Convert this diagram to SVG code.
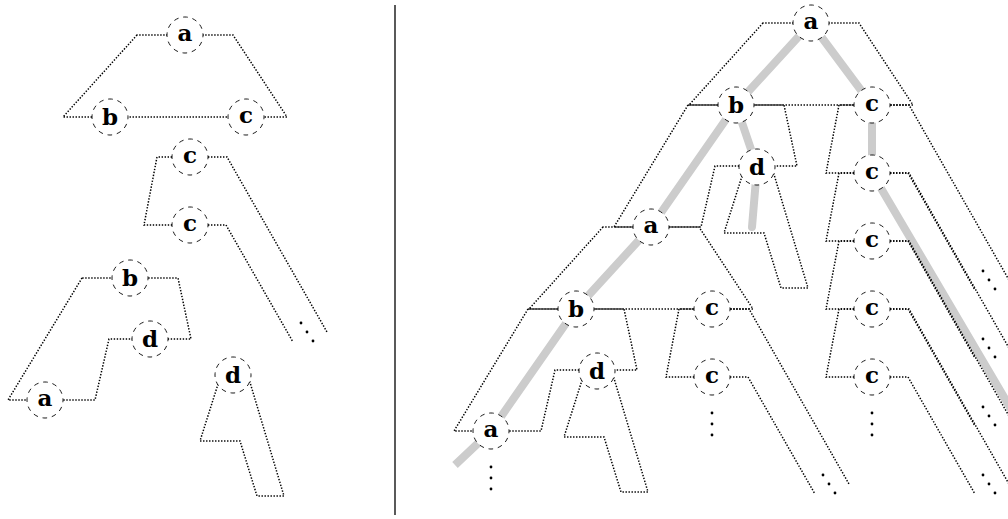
<svg xmlns="http://www.w3.org/2000/svg" width="1008" height="519" viewBox="0 0 1008 519">
<style>
.o{fill:none;stroke:#000;stroke-width:1.5;stroke-dasharray:1.4 1.6}
.n circle{fill:#fff;stroke:#000;stroke-width:0.9;stroke-dasharray:4.71 4.71;stroke-dashoffset:2.36}
.n text{font-family:"DejaVu Serif",serif;font-weight:bold;font-size:23px;text-anchor:middle;fill:#000}
.g{fill:none;stroke:#ccc;stroke-width:8;stroke-linejoin:round}
.dt{fill:#000}
</style>
<defs>
<g id="p1"><path class="o" d="M-48,0 L-122,82 L102,82 L48,0 Z"/></g>
<g id="p2"><path class="o" d="M0,0 L-33,0 L-46,68 L0,68 M0,0 L37,0 L137,175 M0,68 L36,68 L103,185"/><circle class="dt" cx="111" cy="166" r="1.4"/><circle class="dt" cx="117" cy="175" r="1.4"/><circle class="dt" cx="123" cy="184" r="1.4"/></g>
<g id="p3"><path class="o" d="M-48,0 L-122,122 L-35,122 L-21,61 L61,61 L48,0 Z"/></g>
<g id="p4"><path class="o" d="M-14,6 L-33,66 L7,66 L24,121 L51,121 L16,4"/></g>
<g id="vd"><circle class="dt" cx="0" cy="36" r="1.4"/><circle class="dt" cx="0" cy="47" r="1.4"/><circle class="dt" cx="0" cy="58" r="1.4"/></g>
</defs>
<rect width="1008" height="519" fill="#fff"/>
<g id="connectors">
<line x1="395" y1="5" x2="395" y2="515" stroke="#000" stroke-width="1.3"/>
<g id="highlight">
<path class="g" d="M811,23 L736,105 L651,227 L576,309 L491,431 L455,465"/>
<path class="g" d="M811,23 L872,105 L872,173 L1014,414"/>
<path class="g" d="M736,105 L757,167 L752,227" stroke-linecap="round"/>
</g>
<g id="outlines">
<use href="#p1" transform="translate(185,35)"/>
<use href="#p2" transform="translate(190,157)"/>
<use href="#p3" transform="translate(130,278)"/>
<use href="#p4" transform="translate(233,375)"/>
<use href="#p1" transform="translate(811,23)"/>
<use href="#p1" transform="translate(651,227)"/>
<use href="#p3" transform="translate(736,105)"/>
<use href="#p3" transform="translate(576,309)"/>
<use href="#p2" transform="translate(872,105)"/>
<use href="#p2" transform="translate(872,173)"/>
<use href="#p2" transform="translate(872,241)"/>
<use href="#p2" transform="translate(872,309)"/>
<use href="#p2" transform="translate(712,309)"/>
<use href="#p4" transform="translate(757,167)"/>
<use href="#p4" transform="translate(597,371)"/>
<use href="#vd" transform="translate(491,431)"/>
<use href="#vd" transform="translate(712,377)"/>
<use href="#vd" transform="translate(872,377)"/>
</g>
</g>
<g id="L_a" class="n" transform="translate(185,35)"><circle r="18"/><text y="6">a</text></g>
<g id="L_b" class="n" transform="translate(110,117)"><circle r="18"/><text y="8">b</text></g>
<g id="L_c" class="n" transform="translate(246,117)"><circle r="18"/><text y="6">c</text></g>
<g id="L_c1" class="n" transform="translate(190,157)"><circle r="18"/><text y="6">c</text></g>
<g id="L_c2" class="n" transform="translate(190,225)"><circle r="18"/><text y="6">c</text></g>
<g id="L_b2" class="n" transform="translate(130,278)"><circle r="18"/><text y="8">b</text></g>
<g id="L_d2" class="n" transform="translate(150,339)"><circle r="18"/><text y="8">d</text></g>
<g id="L_a2" class="n" transform="translate(45,400)"><circle r="18"/><text y="6">a</text></g>
<g id="L_d" class="n" transform="translate(233,375)"><circle r="18"/><text y="8">d</text></g>
<g id="R_a0" class="n" transform="translate(811,23)"><circle r="18"/><text y="6">a</text></g>
<g id="R_b1" class="n" transform="translate(736,105)"><circle r="18"/><text y="8">b</text></g>
<g id="R_c1" class="n" transform="translate(872,105)"><circle r="18"/><text y="6">c</text></g>
<g id="R_d1" class="n" transform="translate(757,167)"><circle r="18"/><text y="8">d</text></g>
<g id="R_a1" class="n" transform="translate(651,227)"><circle r="18"/><text y="6">a</text></g>
<g id="R_b2" class="n" transform="translate(576,309)"><circle r="18"/><text y="8">b</text></g>
<g id="R_cm" class="n" transform="translate(712,309)"><circle r="18"/><text y="6">c</text></g>
<g id="R_cb" class="n" transform="translate(712,377)"><circle r="18"/><text y="6">c</text></g>
<g id="R_d2" class="n" transform="translate(597,371)"><circle r="18"/><text y="8">d</text></g>
<g id="R_a2" class="n" transform="translate(491,431)"><circle r="18"/><text y="6">a</text></g>
<g id="R_c2" class="n" transform="translate(872,173)"><circle r="18"/><text y="6">c</text></g>
<g id="R_c3" class="n" transform="translate(872,241)"><circle r="18"/><text y="6">c</text></g>
<g id="R_c4" class="n" transform="translate(872,309)"><circle r="18"/><text y="6">c</text></g>
<g id="R_c5" class="n" transform="translate(872,377)"><circle r="18"/><text y="6">c</text></g>
</svg>
